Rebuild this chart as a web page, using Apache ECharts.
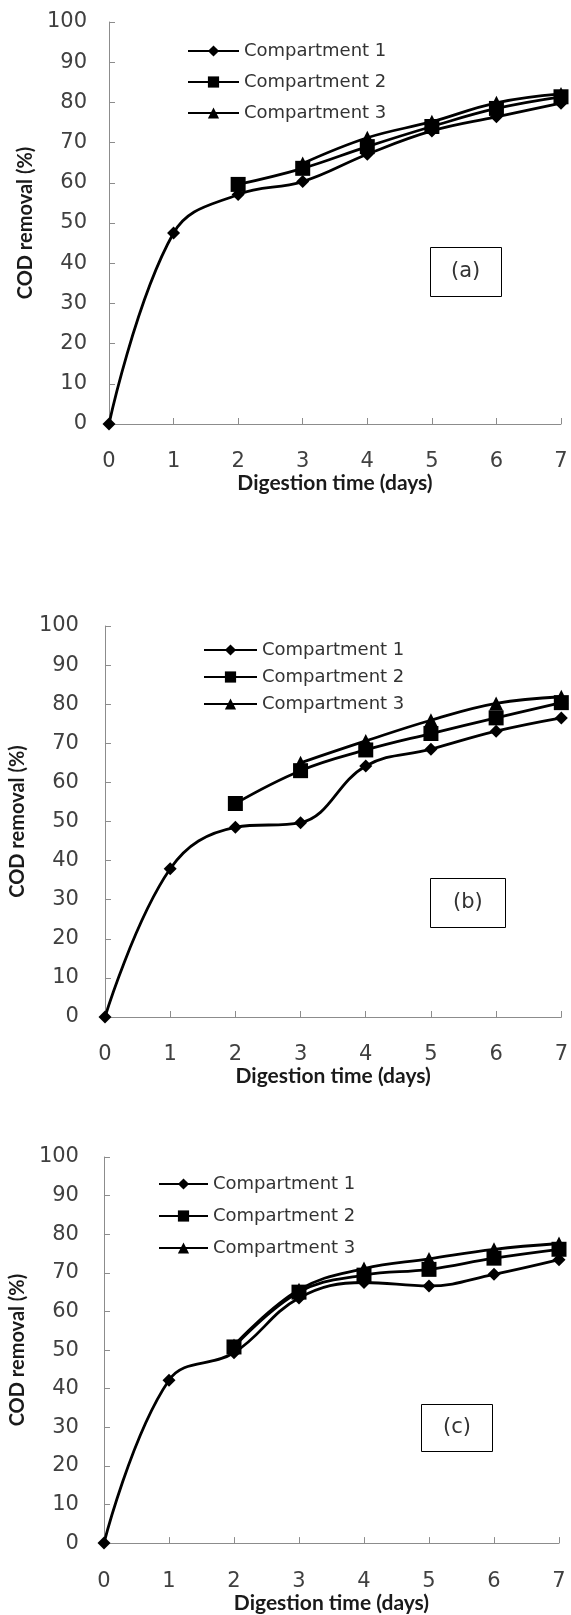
<!DOCTYPE html>
<html>
<head>
<meta charset="utf-8">
<script src="https://cdn.jsdelivr.net/npm/echarts@6/dist/echarts.min.js"></script>
<style>
  html, body { margin: 0; padding: 0; background: #fff; }
  #main { width: 571px; height: 1615px; }
</style>
</head>
<body>
<div id="main"></div>
<script>
// digestion time (days)
var days = [0, 1, 2, 3, 4, 5, 6, 7];
var names = ['Compartment 1', 'Compartment 2', 'Compartment 3'];
var yTicks = [0, 10, 20, 30, 40, 50, 60, 70, 80, 90, 100];

// COD removal (%) -- panel (a)
var a1 = [0, 47.5, 57.1, 60.3, 67.1, 72.9, 76.4, 79.8];
var a2 = [null, null, 59.6, 63.6, 69.0, 74.0, 78.5, 81.4];
var a3 = [null, null, null, 64.8, 71.2, 75.2, 79.9, 82.1];
// panel (b)
var b1 = [0, 37.9, 48.5, 49.7, 64.2, 68.5, 73.1, 76.5];
var b2 = [null, null, 54.6, 63.0, 68.3, 72.5, 76.5, 80.4];
var b3 = [null, null, null, 65.0, 70.6, 75.9, 80.2, 81.9];
// panel (c)
var c1 = [0, 42.2, 49.3, 63.5, 67.5, 66.6, 69.6, 73.4];
var c2 = [null, null, 50.8, 65.0, 69.4, 70.9, 73.8, 76.1];
var c3 = [null, null, 51.2, 65.6, 71.1, 73.6, 76.1, 77.6];

var panelTags = ['(a)', '(b)', '(c)'];

(function(){
    var myChart = echarts.init(document.getElementById('main'));
    var tickFont = 'DejaVu Sans';
    var titleFont = 'Lato';
    var symbols = ['diamond', 'rect', 'triangle'];
    var symSizes = [13, 15, 14];

    // layout of the three panels (pixels)
    var panels = [
        {left: 109, right: 10, top: 22, height: 402, labelMargin: 22, yGap: 68, xGap: 47, xMargin: 27,
         lgLeft: 182, lgTop: 36, lgGap: 11, lgW: 51,
         box: {left: 430, top: 247, padH: 21, padV: 13}},
        {left: 102, right: 0, top: 626, height: 391, labelMargin: 26, yGap: 62, xGap: 48, xMargin: 27,
         lgLeft: 198, lgTop: 635, lgGap: 7, lgW: 53,
         box: {left: 430, top: 878, padH: 23, padV: 13}},
        {left: 93, right: 12, top: 1157, height: 399, labelMargin: 25, yGap: 60, xGap: 38, xMargin: 28,
         lgLeft: 153, lgTop: 1169, lgGap: 12, lgW: 49,
         box: {left: 421, top: 1404, padH: 22, padV: 12}}
    ];
    var sets = [[a1, a2, a3], [b1, b2, b3], [c1, c2, c3]];

    var grid = [], xAxis = [], yAxis = [], series = [], legend = [], title = [];

    panels.forEach(function(p, i){
        grid.push({left: p.left, right: p.right, top: p.top, height: p.height});
        xAxis.push({
            gridIndex: i, type: 'value', min: 0, max: 7, interval: 1,
            name: 'Digestion time (days)', nameLocation: 'middle', nameGap: p.xGap,
            nameTextStyle: {fontFamily: titleFont, fontWeight: 'bold', fontSize: 21, color: '#1a1a1a'},
            axisLine: {lineStyle: {color: '#8c8c8c', width: 1}},
            axisTick: {inside: true, length: 6, lineStyle: {color: '#8c8c8c'}},
            axisLabel: {margin: p.xMargin, fontFamily: tickFont, fontSize: 21, color: '#404040'},
            splitLine: {show: false}
        });
        yAxis.push({
            gridIndex: i, type: 'value', min: yTicks[0], max: yTicks[yTicks.length - 1], interval: 10,
            name: 'COD removal (%)', nameLocation: 'middle', nameGap: p.yGap, nameRotate: 90,
            nameTextStyle: {fontFamily: titleFont, fontWeight: 'bold', fontSize: 20, color: '#1a1a1a'},
            axisLine: {show: true, lineStyle: {color: '#8c8c8c', width: 1}},
            axisTick: {show: true, inside: true, length: 6, lineStyle: {color: '#8c8c8c'}},
            axisLabel: {margin: p.labelMargin, fontFamily: tickFont, fontSize: 21, color: '#404040'},
            splitLine: {show: false}
        });
        sets[i].forEach(function(vals, k){
            var pts = [];
            days.forEach(function(d, j){
                if (vals[j] !== null) pts.push([d, vals[j]]);
            });
            series.push({
                name: names[k], type: 'line', xAxisIndex: i, yAxisIndex: i,
                data: pts, smooth: 0.4,
                symbol: symbols[k], symbolSize: symSizes[k], showAllSymbol: true,
                lineStyle: {color: '#000', width: 2.8},
                itemStyle: {color: '#000'},
                clip: false, z: 3 - k
            });
        });
        legend.push({
            data: names, orient: 'vertical', left: p.lgLeft, top: p.lgTop,
            itemWidth: p.lgW, itemHeight: 14, itemGap: p.lgGap,
            selectedMode: false,
            textStyle: {fontFamily: tickFont, fontSize: 18, color: '#333', lineHeight: 20}
        });
        title.push({
            text: panelTags[i], left: p.box.left, top: p.box.top,
            borderColor: '#000', borderWidth: 1,
            padding: [p.box.padV, p.box.padH],
            textStyle: {fontFamily: tickFont, fontWeight: 'normal', fontSize: 21, color: '#333', lineHeight: 24}
        });
    });

    var option = {
        backgroundColor: '#fff',
        animation: false,
        title: title,
        legend: legend,
        grid: grid,
        xAxis: xAxis,
        yAxis: yAxis,
        series: series
    };
    myChart.setOption(option);
    window.addEventListener("resize", function(){
        myChart.resize();
    });
})();
</script>
</body>
</html>
